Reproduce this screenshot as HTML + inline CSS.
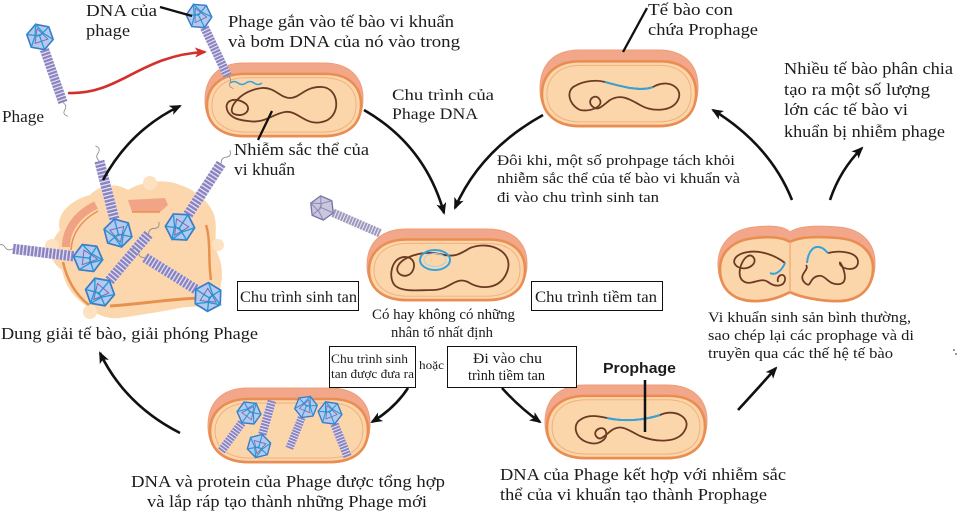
<!DOCTYPE html>
<html><head><meta charset="utf-8"><style>
html,body{margin:0;padding:0;background:#fff;}
svg{display:block;}
text{fill:#1c1c1c;}
</style></head><body>
<svg width="960" height="524" viewBox="0 0 960 524" xmlns="http://www.w3.org/2000/svg" font-family="'Liberation Serif','DejaVu Serif',serif">
<defs>
<pattern id="coil" patternUnits="userSpaceOnUse" width="10" height="3">
<rect width="10" height="3" fill="#e8e6f6"/>
<rect width="10" height="2" fill="#8a83c0"/>
</pattern>
<pattern id="coilg" patternUnits="userSpaceOnUse" width="10" height="3">
<rect width="10" height="3" fill="#efeef5"/>
<rect width="10" height="2" fill="#9c98bd"/>
</pattern>
<g id="ph">
<rect x="-4.2" y="11" width="8.4" height="51" fill="url(#coil)"/>
<polygon points="0,-12 10.4,-6 10.4,6 0,12 -10.4,6 -10.4,-6" fill="#b3c9ee" stroke="#3b7cc6" stroke-width="1.4"/>
<path d="M-10.4,-6 L0,-1 L10.4,-6 M0,-1 L0,12 M-10.4,6 L-4,-2 M10.4,6 L4,-2 M0,-12 L-4,-2 L4,-2 Z" fill="none" stroke="#1f9ad8" stroke-width="1.1"/>
<path d="M-6,4 L6,4 L0,-8 Z" fill="none" stroke="#7c66b2" stroke-width="0.8"/>
<path d="M0,62 q3,4 -1,7 q-3,3 1,6" fill="none" stroke="#8a8a8a" stroke-width="0.7"/>
</g>
<g id="phs">
<rect x="-4.2" y="11" width="8.4" height="36" fill="url(#coil)"/>
<polygon points="0,-12 10.4,-6 10.4,6 0,12 -10.4,6 -10.4,-6" fill="#b3c9ee" stroke="#3b7cc6" stroke-width="1.4"/>
<path d="M-10.4,-6 L0,-1 L10.4,-6 M0,-1 L0,12 M-10.4,6 L-4,-2 M10.4,6 L4,-2 M0,-12 L-4,-2 L4,-2 Z" fill="none" stroke="#1f9ad8" stroke-width="1.1"/>
<path d="M-6,4 L6,4 L0,-8 Z" fill="none" stroke="#7c66b2" stroke-width="0.8"/>
</g>
<g id="phg">
<rect x="-4.2" y="11" width="8.4" height="51" fill="url(#coilg)"/>
<polygon points="0,-12 10.4,-6 10.4,6 0,12 -10.4,6 -10.4,-6" fill="#c9c7de" stroke="#7773a6" stroke-width="1.3"/>
<path d="M-10.4,-6 L0,-1 L10.4,-6 M0,-1 L0,12 M-10.4,6 L-4,-2 M10.4,6 L4,-2 M0,-12 L-4,-2 L4,-2 Z" fill="none" stroke="#8c88b6" stroke-width="1"/>
</g>
<g id="cell">
<path d="M40 0 H120 C148 0 160 16 160 36 C160 60 146 75 120 75 H40 C14 75 0 60 0 38 C0 16 12 0 40 0 Z" fill="#f3a78a" stroke="#ef9d78" stroke-width="1"/>
<path d="M40 11 H122 C148 11 158 26 158 42 C158 62 145 74 120 74 H40 C16 74 2 62 2 43 C2 25 15 11 40 11 Z" fill="#fcd6ab" stroke="#ea8d52" stroke-width="2.6"/>
<path d="M41 15 H120 C144 15 153 28 153 42 C153 60 141 70 119 70 H41 C19 70 7 59 7 43 C7 27 19 15 41 15 Z" fill="none" stroke="#f2b07c" stroke-width="1"/>
</g>
<marker id="ah" viewBox="0 0 12 10" refX="10" refY="5" markerWidth="12" markerHeight="10" markerUnits="userSpaceOnUse" orient="auto">
<path d="M0,0 L12,5 L0,10 L3,5 Z" fill="#111"/>
</marker>
<marker id="ahr" viewBox="0 0 12 10" refX="10" refY="5" markerWidth="12" markerHeight="10" markerUnits="userSpaceOnUse" orient="auto">
<path d="M0,0 L12,5 L0,10 L3,5 Z" fill="#d3302c"/>
</marker>
</defs>

<!-- ===== Lysing cell ===== -->
<g>
<path d="M60 230 C55 215 70 200 90 195 C100 185 115 182 128 190 C140 182 165 178 180 185 C195 190 205 198 212 210 C220 225 212 240 218 255 C225 270 222 290 215 300 C210 310 195 305 180 308 C160 312 140 315 120 318 C105 320 92 312 85 305 C72 295 65 285 62 270 C50 262 45 248 60 230 Z" fill="#fcd7ae"/>
<circle cx="52" cy="246" r="7" fill="#fde2c2"/>
<circle cx="212" cy="292" r="8" fill="#fde2c2"/>
<circle cx="90" cy="312" r="7" fill="#fde2c2"/>
<circle cx="150" cy="183" r="7" fill="#fde2c2"/>
<circle cx="218" cy="245" r="6" fill="#fde2c2"/>
<circle cx="200" cy="196" r="6" fill="#fde2c2"/>
<path d="M128 200 L165 198 L168 205 L160 212 L132 212 Z" fill="#f1a486"/>
<path d="M132 212 L160 212" stroke="#e8914e" stroke-width="1.5"/>
<path d="M66 247 C66 230 76 215 96 205" fill="none" stroke="#f0a284" stroke-width="8"/>
<path d="M71 250 C72 234 80 221 98 211" fill="none" stroke="#e8914e" stroke-width="1.5"/>
<path d="M110 306 C140 304 170 299 200 298" fill="none" stroke="#e8914e" stroke-width="3"/>
<path d="M206 225 C211 240 208 262 211 280" fill="none" stroke="#e8914e" stroke-width="2.5"/>
<path d="M63 262 C67 280 76 295 89 305" fill="none" stroke="#e8914e" stroke-width="2.5"/>
<use href="#ph" transform="translate(118,233) rotate(165.5) scale(1.2)"/>
<use href="#ph" transform="translate(180,227) rotate(-147) scale(1.22)"/>
<use href="#ph" transform="translate(88,258) rotate(97) scale(1.22)"/>
<use href="#ph" transform="translate(100,292) rotate(-140) scale(1.22)"/>
<use href="#ph" transform="translate(208,297) rotate(122) scale(1.2)"/>
</g>

<!-- ===== Cells ===== -->
<use href="#cell" transform="translate(205,63) scale(0.9875,0.987)"/>
<use href="#cell" transform="translate(540,50) scale(0.9875,1.027)"/>
<use href="#cell" transform="translate(367,229) scale(1,0.96)"/>
<use href="#cell" transform="translate(545,385) scale(1.0125,0.987)"/>
<use href="#cell" transform="translate(208,388) scale(1.0125,1)"/>

<!-- dividing cell -->
<g>
<path d="M755 227 C772 225 784 226 790 232 C798 226 815 225 838 227 C864 229 875 245 875 263 C875 286 861 302 838 302 C820 302 800 298 790 293 C780 298 770 302 755 302 C731 302 718 287 718 264 C718 245 731 229 755 227 Z" fill="#f3a78a" stroke="#ef9d78" stroke-width="1"/>
<path d="M755 238 C772 236 784 238 790 242 C798 237 815 236 838 238 C862 240 873 253 873 268 C873 288 860 301 838 301 C820 301 800 297 790 292 C780 297 770 301 755 301 C733 301 720 289 720 269 C720 252 733 240 755 238 Z" fill="#fcd6ab" stroke="#ea8d52" stroke-width="2.6"/>
<path d="M790 242 L790 292" stroke="#f0b07c" stroke-width="1.5"/>
<path d="M785 263 C775 255 760 250 748 252 C735 254 730 262 738 267 C748 272 760 262 752 256 C745 252 735 272 742 280 C750 288 760 276 768 282 C776 288 784 286 785 280 C786 272 776 274 778 282" fill="none" stroke="#6b3a24" stroke-width="1.8"/>
<path d="M770 273 C776 276 782 270 785 263" fill="none" stroke="#35a3db" stroke-width="2"/>
<path d="M828 253 C840 250 858 252 858 262 C858 272 842 270 840 264 C838 256 852 282 840 284 C828 286 826 274 818 276 C808 278 812 290 804 282 C798 274 810 270 806 265" fill="none" stroke="#6b3a24" stroke-width="1.8"/>
<path d="M807 263 C808 252 813 246 819 247 C825 248 826 252 828 253" fill="none" stroke="#35a3db" stroke-width="2"/>
</g>

<!-- chromosomes cell1 -->
<path d="M228 112 C222 100 236 96 246 104 C252 110 244 118 234 114 C226 110 240 90 262 88 C275 87 280 98 290 98 C300 98 305 86 322 87 C340 88 342 118 322 122 C305 126 298 110 285 112 C272 114 265 124 248 121 C238 120 232 118 228 112" fill="none" stroke="#6b3a24" stroke-width="1.8"/>
<path d="M230 83 q4 -3 8 0 t8 0 t8 0 t8 0" fill="none" stroke="#35a3db" stroke-width="1.5"/>
<!-- cell2 -->
<path d="M580 110 C568 104 566 90 575 86 C585 80 598 80 605 82 C620 86 640 92 653 87 C668 78 684 88 678 100 C672 112 652 112 640 105 C628 98 620 94 610 100 C602 106 598 112 592 106 C586 100 596 92 600 100 C603 106 592 112 580 110" fill="none" stroke="#6b3a24" stroke-width="1.8"/>
<path d="M605 82 C620 86 640 92 653 87" fill="none" stroke="#35a3db" stroke-width="2"/>
<!-- cell3 -->
<path d="M397 287 C388 282 390 262 400 258 C410 254 418 262 412 272 C406 280 394 274 398 266 C402 258 420 250 440 254 C455 258 460 254 470 248 C490 240 515 252 507 272 C500 290 480 290 468 282 C455 276 450 290 433 290 C420 290 405 292 397 287" fill="none" stroke="#6b3a24" stroke-width="1.8"/>
<ellipse cx="435" cy="260" rx="15" ry="10" fill="none" stroke="#35a3db" stroke-width="2"/>
<ellipse cx="435" cy="260" rx="11" ry="6.5" fill="none" stroke="#9dd4ef" stroke-width="1"/>
<!-- cell5 -->
<path d="M590 443 C575 440 572 425 580 420 C588 414 598 416 607 418 C625 422 645 420 660 415 C675 408 692 418 685 430 C678 444 655 442 640 436 C628 430 622 424 612 430 C604 436 600 442 596 436 C592 430 604 424 606 432 C608 440 598 445 590 443" fill="none" stroke="#6b3a24" stroke-width="1.8"/>
<path d="M607 418 C625 422 645 420 660 415" fill="none" stroke="#35a3db" stroke-width="2"/>
<line x1="645" y1="380" x2="645" y2="432" stroke="#111" stroke-width="2.5"/>
<!-- cell6 phages -->
<use href="#phs" transform="translate(249,413) rotate(36) scale(1.0)"/>
<use href="#phs" transform="translate(259,446) rotate(-164) scale(1.0)"/>
<use href="#phs" transform="translate(306,407) rotate(22) scale(0.95)"/>
<use href="#phs" transform="translate(330,413) rotate(-22) scale(1.0)"/>

<!-- free phages -->
<use href="#ph" transform="translate(40,37) rotate(-19.3) scale(1.12)"/>
<use href="#ph" transform="translate(199,16) rotate(-25.5) scale(1.07)"/>
<use href="#phg" transform="translate(322,208) rotate(-66.5) scale(1.02)"/>

<!-- ===== Arrows ===== -->
<g fill="none" stroke="#111" stroke-width="2.6">
<path d="M364 110 Q425 145 444 213" marker-end="url(#ah)"/>
<path d="M543 115 Q480 150 455 208" marker-end="url(#ah)"/>
<path d="M103 180 Q130 130 180 106" marker-end="url(#ah)"/>
<path d="M792 200 Q770 145 713 110" marker-end="url(#ah)"/>
<path d="M830 200 Q840 170 862 148" marker-end="url(#ah)"/>
<path d="M738 410 Q760 386 776 368" marker-end="url(#ah)"/>
<path d="M180 433 Q125 405 100 353" marker-end="url(#ah)"/>
<path d="M408 388 Q395 408 372 422" marker-end="url(#ah)"/>
<path d="M502 388 Q520 408 540 422" marker-end="url(#ah)"/>
</g>
<path d="M68 93 C120 95 140 55 205 52" fill="none" stroke="#d3302c" stroke-width="2.6" marker-end="url(#ahr)"/>
<g stroke="#111" stroke-width="2.3">
<line x1="160" y1="7" x2="192" y2="16"/>
<line x1="272" y1="111" x2="258" y2="140"/>
<line x1="647" y1="8" x2="623" y2="52"/>
</g>

<!-- ===== Boxes ===== -->
<g fill="#fff" stroke="#111" stroke-width="1">
<rect x="237.5" y="281.5" width="121" height="29"/>
<rect x="531.5" y="281.5" width="131" height="29"/>
<rect x="329.5" y="346.5" width="86" height="41"/>
<rect x="447.5" y="346.5" width="129" height="41"/>
</g>

<!-- ===== Text ===== -->
<g font-size="17">
<text x="86" y="16" textLength="71" lengthAdjust="spacingAndGlyphs">DNA của</text>
<text x="86" y="36" textLength="44" lengthAdjust="spacingAndGlyphs">phage</text>
<text x="228" y="27" textLength="226" lengthAdjust="spacingAndGlyphs">Phage gắn vào tế bào vi khuẩn</text>
<text x="228" y="47" textLength="232" lengthAdjust="spacingAndGlyphs">và bơm DNA của nó vào trong</text>
<text x="2" y="122" textLength="42" lengthAdjust="spacingAndGlyphs">Phage</text>
<text x="392" y="100" textLength="102" lengthAdjust="spacingAndGlyphs" font-size="16">Chu trình của</text>
<text x="392" y="119" textLength="86" lengthAdjust="spacingAndGlyphs" font-size="16">Phage DNA</text>
<text x="234" y="155" textLength="135" lengthAdjust="spacingAndGlyphs">Nhiễm sắc thể của</text>
<text x="234" y="175" textLength="61" lengthAdjust="spacingAndGlyphs">vi khuẩn</text>
<text x="648" y="15" textLength="85" lengthAdjust="spacingAndGlyphs">Tế bào con</text>
<text x="648" y="35" textLength="110" lengthAdjust="spacingAndGlyphs">chứa Prophage</text>
<text x="784" y="74" textLength="169" lengthAdjust="spacingAndGlyphs">Nhiều tế bào phân chia</text>
<text x="784" y="95" textLength="146" lengthAdjust="spacingAndGlyphs">tạo ra một số lượng</text>
<text x="784" y="115" textLength="124" lengthAdjust="spacingAndGlyphs">lớn các tế bào vi</text>
<text x="784" y="137" textLength="161" lengthAdjust="spacingAndGlyphs">khuẩn bị nhiễm phage</text>
<text x="497" y="165" textLength="238" lengthAdjust="spacingAndGlyphs" font-size="15">Đôi khi, một số prohpage tách khỏi</text>
<text x="497" y="183" textLength="243" lengthAdjust="spacingAndGlyphs" font-size="15">nhiễm sắc thể của tế bào vi khuẩn và</text>
<text x="497" y="202" textLength="162" lengthAdjust="spacingAndGlyphs" font-size="15">đi vào chu trình sinh tan</text>
<text x="240" y="302" textLength="117" lengthAdjust="spacingAndGlyphs" font-size="16">Chu trình sinh tan</text>
<text x="535" y="302" textLength="122" lengthAdjust="spacingAndGlyphs" font-size="16">Chu trình tiềm tan</text>
<text x="372" y="319" textLength="143" lengthAdjust="spacingAndGlyphs" font-size="15">Có hay không có những</text>
<text x="391" y="337" textLength="102" lengthAdjust="spacingAndGlyphs" font-size="15">nhân tố nhất định</text>
<text x="331" y="363" textLength="77" lengthAdjust="spacingAndGlyphs" font-size="13">Chu trình sinh</text>
<text x="331" y="378" textLength="83" lengthAdjust="spacingAndGlyphs" font-size="13">tan được đưa ra</text>
<text x="419" y="369" textLength="25" lengthAdjust="spacingAndGlyphs" font-size="12">hoặc</text>
<text x="473" y="363" textLength="69" lengthAdjust="spacingAndGlyphs" font-size="15">Đi vào chu</text>
<text x="468" y="380" textLength="77" lengthAdjust="spacingAndGlyphs" font-size="15">trình tiềm tan</text>
<text x="603" y="373" textLength="73" lengthAdjust="spacingAndGlyphs" font-size="15" font-weight="bold" font-family="'Liberation Sans','DejaVu Sans',sans-serif" fill="#333">Prophage</text>
<text x="500" y="480" textLength="286" lengthAdjust="spacingAndGlyphs">DNA của Phage kết hợp với nhiễm sắc</text>
<text x="500" y="500" textLength="267" lengthAdjust="spacingAndGlyphs">thể của vi khuẩn tạo thành Prophage</text>
<text x="708" y="322" textLength="203" lengthAdjust="spacingAndGlyphs" font-size="15">Vi khuẩn sinh sản bình thường,</text>
<text x="708" y="340" textLength="206" lengthAdjust="spacingAndGlyphs" font-size="15">sao chép lại các prophage và di</text>
<text x="708" y="358" textLength="185" lengthAdjust="spacingAndGlyphs" font-size="15">truyền qua các thế hệ tế bào</text>
<text x="1" y="339" textLength="257" lengthAdjust="spacingAndGlyphs">Dung giải tế bào, giải phóng Phage</text>
<text x="131" y="487" textLength="314" lengthAdjust="spacingAndGlyphs">DNA và protein của Phage được tổng hợp</text>
<text x="147" y="507" textLength="280" lengthAdjust="spacingAndGlyphs">và lắp ráp tạo thành những Phage mới</text>
</g>
<circle cx="954" cy="350" r="0.9" fill="#555"/>
<circle cx="956" cy="354" r="0.9" fill="#555"/>
</svg>
</body></html>
